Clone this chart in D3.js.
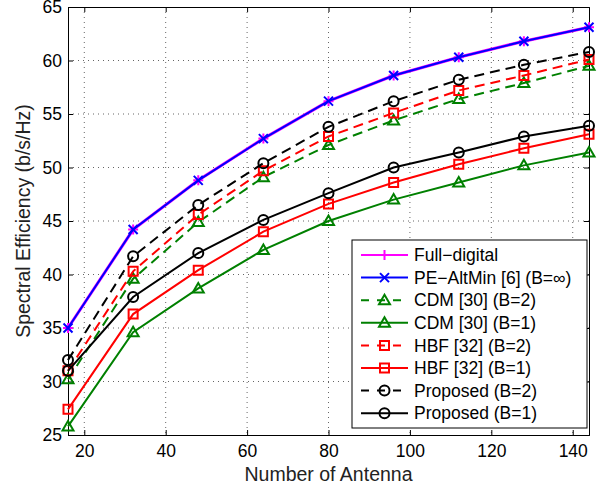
<!DOCTYPE html>
<html>
<head>
<meta charset="utf-8">
<script src="https://cdn.jsdelivr.net/npm/d3@7"></script>
<style>
  body { margin: 0; background: #fff; }
  text { font-family: "Liberation Sans", Arial, Helvetica, sans-serif; }
</style>
</head>
<body>
<div id="chart"></div>
<script>
// data
var antennas = [16, 32, 48, 64, 80, 96, 112, 128, 144];
var fullDigital = [35.0, 44.2, 48.8, 52.7, 56.2, 58.6, 60.3, 61.8, 63.1];
var peAltMin = [35.0, 44.2, 48.8, 52.7, 56.2, 58.6, 60.3, 61.8, 63.1];
var cdmB2 = [30.2, 39.6, 44.9, 49.1, 52.1, 54.4, 56.4, 57.9, 59.5];
var cdmB1 = [25.8, 34.6, 38.7, 42.3, 45.0, 47.0, 48.6, 50.2, 51.4];
var hbfB2 = [31.0, 40.3, 45.6, 49.7, 52.9, 55.1, 57.2, 58.6, 60.1];
var hbfB1 = [27.4, 36.3, 40.4, 44.0, 46.6, 48.6, 50.3, 51.8, 53.1];
var propB2 = [32.0, 41.7, 46.5, 50.4, 53.8, 56.2, 58.2, 59.6, 60.8];
var propB1 = [31.0, 37.9, 42.0, 45.1, 47.6, 50.0, 51.4, 52.9, 53.9];

var xTicks = [20, 40, 60, 80, 100, 120, 140];
var yTicks = [25, 30, 35, 40, 45, 50, 55, 60, 65];

var series = [
  { name: "Full\u2212digital", values: fullDigital, color: "#ff00ff", dash: null, marker: "plus", width: 3 },
  { name: "PE\u2212AltMin [6] (B=\u221e)", values: peAltMin, color: "#0000ff", dash: null, marker: "x", width: 2 },
  { name: "CDM [30] (B=2)", values: cdmB2, color: "#008000", dash: "10,6", marker: "tri", width: 2 },
  { name: "CDM [30] (B=1)", values: cdmB1, color: "#008000", dash: null, marker: "tri", width: 2 },
  { name: "HBF [32] (B=2)", values: hbfB2, color: "#ff0000", dash: "10,6", marker: "square", width: 2 },
  { name: "HBF [32] (B=1)", values: hbfB1, color: "#ff0000", dash: null, marker: "square", width: 2 },
  { name: "Proposed (B=2)", values: propB2, color: "#000000", dash: "10,6", marker: "circle", width: 2 },
  { name: "Proposed (B=1)", values: propB1, color: "#000000", dash: null, marker: "circle", width: 2 }
];

var svgWidth = 602;
var svgHeight = 489;
var margin = { left: 68, right: 13, top: 7, bottom: 54 };
var width = svgWidth - margin.left - margin.right;
var height = svgHeight - margin.top - margin.bottom;

var svg = d3.select("#chart")
  .append("svg")
  .attr("width", svgWidth)
  .attr("height", svgHeight);

var g = svg.append("g")
  .attr("transform", "translate(" + margin.left + "," + margin.top + ")");

var xScale = d3.scaleLinear().domain([16, 144]).range([0, width]);
var yScale = d3.scaleLinear().domain([25, 65]).range([height, 0]);

// dotted grid
g.append("g")
  .attr("class", "grid")
  .selectAll("line.gx")
  .data(xTicks)
  .enter().append("line")
  .attr("x1", d => xScale(d)).attr("x2", d => xScale(d))
  .attr("y1", 0).attr("y2", height);
g.select(".grid")
  .selectAll("line.gy")
  .data(yTicks.slice(1, -1))
  .enter().append("line")
  .attr("x1", 0).attr("x2", width)
  .attr("y1", d => yScale(d)).attr("y2", d => yScale(d));
g.selectAll(".grid line")
  .attr("stroke", "#666")
  .attr("stroke-width", 1)
  .attr("stroke-dasharray", "1,4");

// axes, ticks inward on all sides
var tickLen = 5;
var axB = g.append("g").attr("transform", "translate(0," + height + ")")
  .call(d3.axisBottom(xScale).tickValues(xTicks).tickSize(-tickLen).tickPadding(10));
var axL = g.append("g")
  .call(d3.axisLeft(yScale).tickValues(yTicks).tickSize(-tickLen).tickPadding(6));
var axT = g.append("g")
  .call(d3.axisTop(xScale).tickValues(xTicks).tickSize(-tickLen).tickFormat(""));
var axR = g.append("g").attr("transform", "translate(" + width + ",0)")
  .call(d3.axisRight(yScale).tickValues(yTicks).tickSize(-tickLen).tickFormat(""));

[axB, axL, axT, axR].forEach(function(a) {
  a.select(".domain").attr("stroke", "#000").attr("stroke-width", 1);
  a.selectAll(".tick line").attr("stroke", "#000");
  a.selectAll("text").attr("fill", "#000").style("font-size", "17.5px")
    .style("font-family", "'Liberation Sans', Arial, sans-serif");
});
axB.selectAll("text").attr("dy", "0.71em");

// axis labels
svg.append("text")
  .attr("x", margin.left + width / 2)
  .attr("y", 481)
  .attr("text-anchor", "middle")
  .style("font-size", "19.5px")
  .attr("fill", "#222")
  .text("Number of Antenna");

svg.append("text")
  .attr("transform", "translate(30," + (margin.top + height / 2) + ") rotate(-90)")
  .attr("text-anchor", "middle")
  .style("font-size", "19.5px")
  .attr("fill", "#222")
  .text("Spectral Efficiency (b/s/Hz)");

// marker shapes
function markerPath(type) {
  if (type === "plus") return "M-5,0L5,0M0,-5L0,5";
  if (type === "x") return "M-4.5,-4.5L4.5,4.5M-4.5,4.5L4.5,-4.5";
  if (type === "square") return "M-4.5,-4.5L4.5,-4.5L4.5,4.5L-4.5,4.5Z";
  if (type === "tri") return "M0,-5.5L5.5,4L-5.5,4Z";
  return d3.arc()({ innerRadius: 0, outerRadius: 5, startAngle: 0, endAngle: 2 * Math.PI });
}

var line = d3.line()
  .x((d, i) => xScale(antennas[i]))
  .y(d => yScale(d));

series.forEach(function(s) {
  var sg = g.append("g");
  sg.append("path")
    .attr("d", line(s.values))
    .attr("fill", "none")
    .attr("stroke", s.color)
    .attr("stroke-width", s.width)
    .attr("stroke-dasharray", s.dash);
  sg.selectAll("path.m")
    .data(s.values)
    .enter().append("path")
    .attr("class", "m")
    .attr("transform", (d, i) => "translate(" + xScale(antennas[i]) + "," + yScale(d) + ")")
    .attr("d", markerPath(s.marker))
    .attr("fill", "none")
    .attr("stroke", s.color)
    .attr("stroke-width", 2);
});

// legend
var lg = svg.append("g").attr("transform", "translate(352,240)");
lg.append("rect")
  .attr("width", 235).attr("height", 188)
  .attr("fill", "#fff").attr("stroke", "#000").attr("stroke-width", 1);
var rowH = 22.6;
series.forEach(function(s, i) {
  var yy = 15 + i * rowH;
  lg.append("line")
    .attr("x1", 9).attr("x2", 56).attr("y1", yy).attr("y2", yy)
    .attr("stroke", s.color).attr("stroke-width", s.dash ? 2 : 2)
    .attr("stroke-dasharray", s.dash ? "8,8" : null)
    .attr("stroke-dashoffset", s.dash ? 0 : null);
  lg.append("path")
    .attr("transform", "translate(32.5," + yy + ")")
    .attr("d", markerPath(s.marker))
    .attr("fill", "none").attr("stroke", s.color).attr("stroke-width", 2);
  lg.append("text")
    .attr("x", 62).attr("y", yy).attr("dy", "0.35em")
    .style("font-size", "17.5px").attr("fill", "#000")
    .text(s.name);
});
</script>
</body>
</html>
